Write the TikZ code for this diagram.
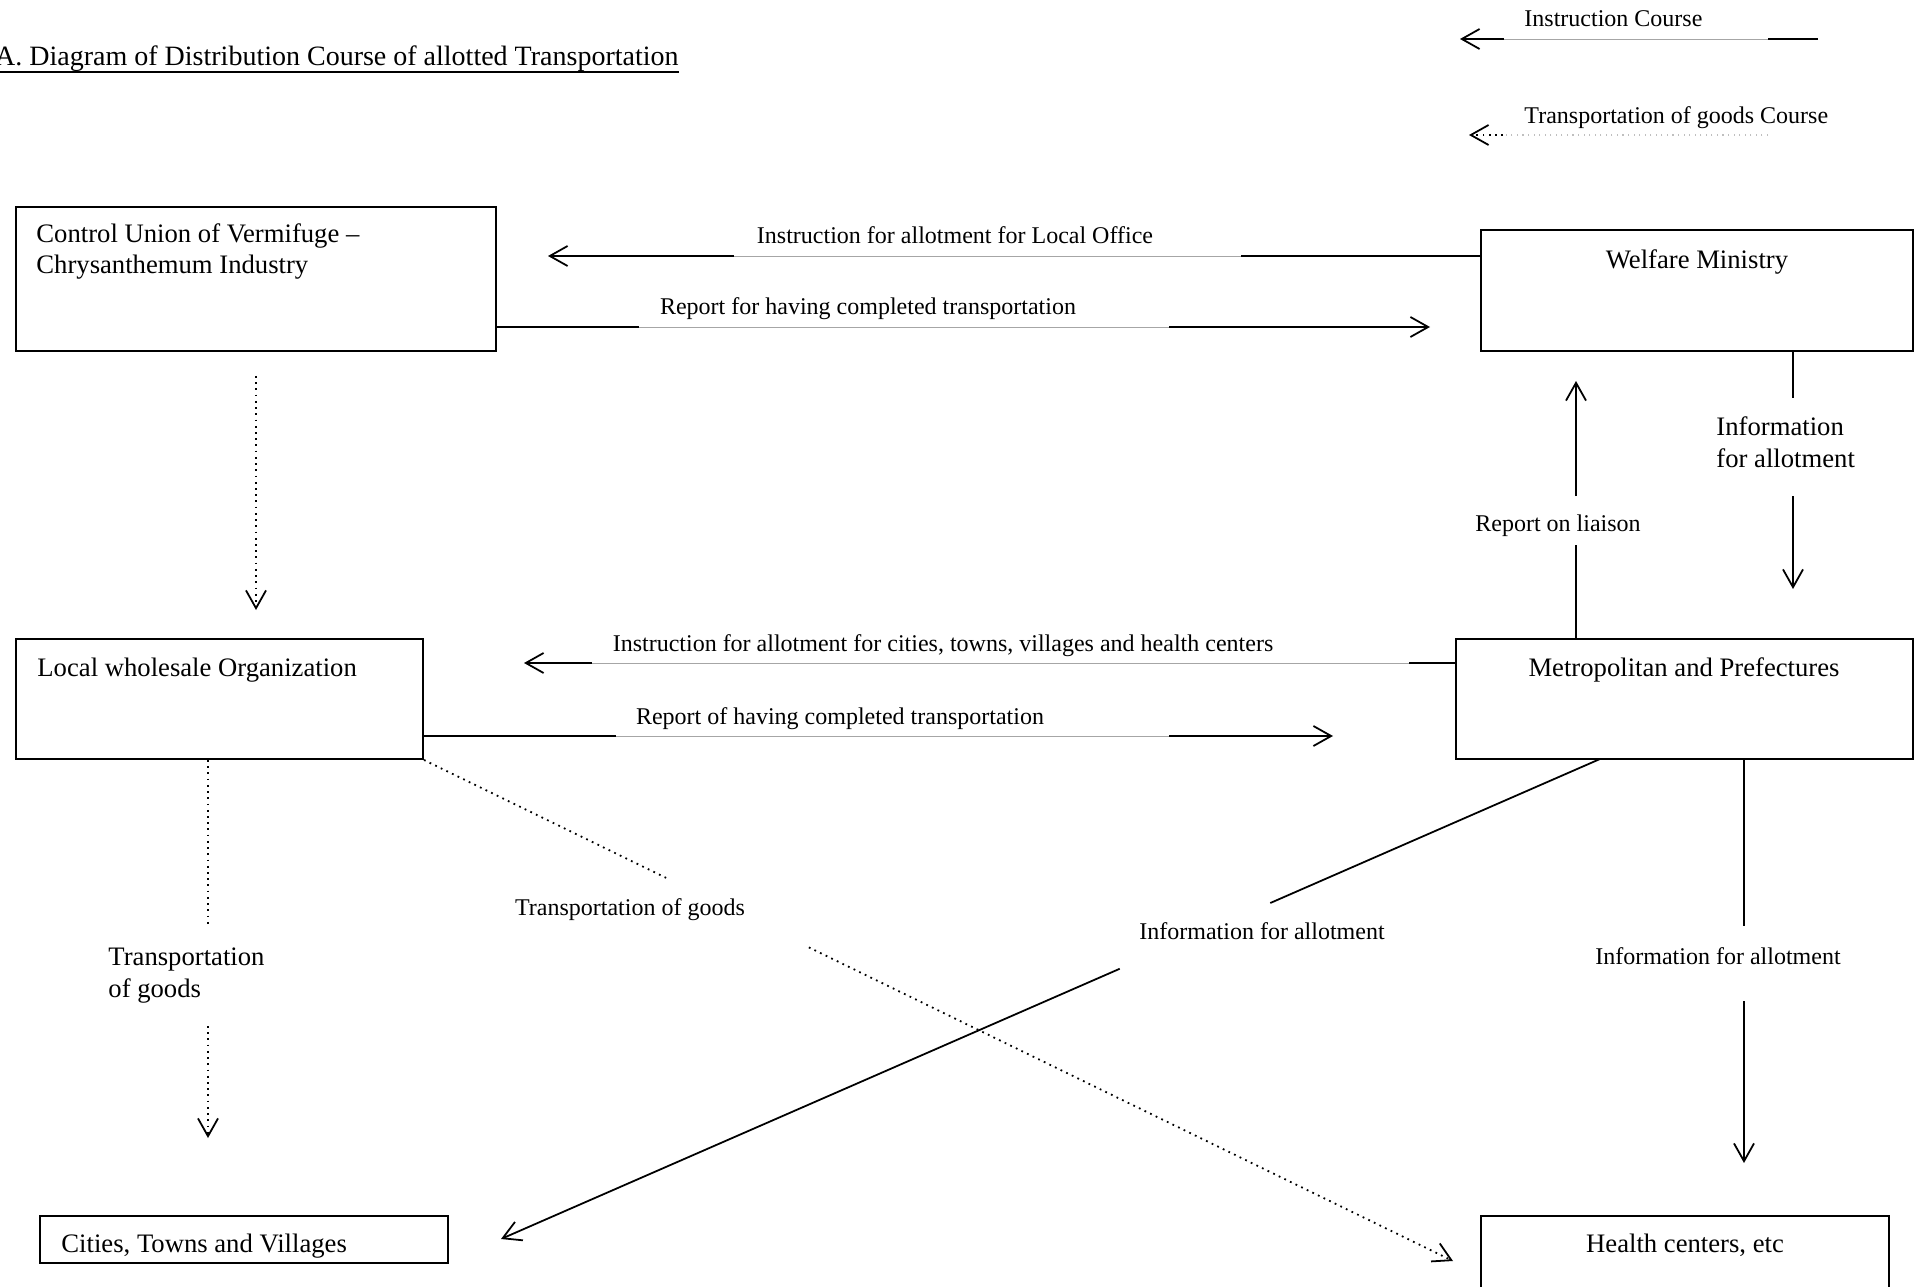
\documentclass[tikz,border=0pt]{standalone}
\usepackage{fontspec}
\setmainfont{Liberation Serif}
\usetikzlibrary{arrows.meta,fit,calc}
\tikzset{
  box/.style={draw, line width=0.9pt, inner sep=0pt},
  boxtext/.style={font=\fontsize{12}{14.2}\selectfont, inner sep=0pt, align=left},
  lbl/.style={font=\fontsize{10.8}{13}\selectfont, inner sep=0pt},
  instr/.style={line width=0.8pt},
  goods/.style={line width=0.8pt, dotted},
  tip/.style={-{Straight Barb[length=8pt,width=9pt,line width=0.8pt]}},
  blank/.style={draw=black!35, line width=0.4pt, preaction={draw=white, line width=2.5pt}},
}
\begin{document}
\begin{tikzpicture}[x=0.45pt, y=-0.45pt]
\useasboundingbox (0,0) rectangle (1919,1287);
% Titel
\node[font=\fontsize{12.6}{15}\selectfont, anchor=base east, inner sep=0pt] (title) at (679,66) {A. Diagram of Distribution Course of allotted Transportation};
\draw[line width=0.9pt] (title.base east) ++(0,6) -- (0,72);

% Legende
\node[lbl, anchor=base west] (leg1) at (1524,27) {Instruction Course};
\node[lbl, anchor=base west] (leg2) at (1524,124) {Transportation of goods Course};
\coordinate (leg1a) at (1818,39);
\coordinate (leg1b) at (1768,39);
\coordinate (leg1c) at (1504,39);
\coordinate (leg1t) at (1460,39);
\draw[instr] (leg1a) -- (leg1b);
\draw[blank] (leg1b) -- (leg1c);
\draw[instr, tip] (leg1c) -- (leg1t);
\coordinate (leg2b) at (1768,135);
\coordinate (leg2c) at (1503,135);
\coordinate (leg2t) at (1469,135);
\draw[draw=black!25, line width=0.5pt, dotted] (leg2b) -- (leg2c);
\draw[goods, tip] (leg2c) -- (leg2t);

% Kaesten
\node[box, fit={(16,207)(496,351)}] (cu) {};
\node[box, fit={(1481,230)(1913,351)}] (wm) {};
\node[box, fit={(16,639)(423,759)}] (lw) {};
\node[box, fit={(1456,639)(1913,759)}] (mp) {};
\node[box, fit={(40,1216)(448,1263)}] (ctv) {};
\node[box, fit={(1481,1216)(1889,1300)}] (hc) {};
\node[boxtext, anchor=base west] (cut) at (36,274) {Control Union of Vermifuge --\\Chrysanthemum Industry};
\node[boxtext, anchor=base] (wmt) at (1697,269) {Welfare Ministry};
\node[boxtext, anchor=base west] (lwt) at (37,676) {Local wholesale Organization};
\node[boxtext, anchor=base] (mpt) at (1684,676) {Metropolitan and Prefectures};
\node[boxtext, anchor=base west] (ctvt) at (61,1252) {Cities, Towns and Villages};
\node[boxtext, anchor=base] (hct) at (1685,1252) {Health centers, etc};

% Welfare Ministry -> Control Union
\coordinate (t1) at (548,256);
\draw[instr, tip] (t1 -| wm.west) -- (t1);
\draw[blank] (734,256) -- (1241,256);
\node[lbl, anchor=base] (l1) at (955,244) {Instruction for allotment for Local Office};
% Control Union -> Welfare Ministry
\coordinate (t2) at (1430,327);
\draw[instr, tip] (t2 -| cu.east) -- (t2);
\draw[blank] (639,327) -- (1169,327);
\node[lbl, anchor=base] (l2) at (868,315) {Report for having completed transportation};
% Control Union -> Local wholesale
\coordinate (t0) at (256,610);
\draw[goods, tip] ([yshift=-10.8pt]cu.south) -- (t0);
% Welfare Ministry -> Metropolitan
\coordinate (g6a) at (1793,398);
\coordinate (g6b) at (1793,496);
\coordinate (t6) at (1793,589);
\draw[instr] (g6a |- wm.south) -- (g6a);
\draw[instr, tip] (g6b) -- (t6);
\node[boxtext, anchor=base west] (l6) at (1716,467) {Information\\for allotment};
% Metropolitan -> Welfare Ministry
\coordinate (g5a) at (1576,545);
\coordinate (g5b) at (1576,496);
\coordinate (t5) at (1576,381);
\draw[instr] (g5a |- mp.north) -- (g5a);
\draw[instr, tip] (g5b) -- (t5);
\node[lbl, anchor=base] (l5) at (1558,531) {Report on liaison};
% Metropolitan -> Local wholesale
\coordinate (t3) at (524,663);
\draw[instr, tip] (t3 -| mp.west) -- (t3);
\draw[blank] (592,663) -- (1409,663);
\node[lbl, anchor=base] (l3) at (943,651) {Instruction for allotment for cities, towns, villages and health centers};
% Local wholesale -> Metropolitan
\coordinate (t4) at (1333,736);
\draw[instr, tip] (t4 -| lw.east) -- (t4);
\draw[blank] (616,736) -- (1169,736);
\node[lbl, anchor=base] (l4) at (840,724) {Report of having completed transportation};
% Local wholesale -> Cities
\coordinate (g7a) at (208,924);
\coordinate (g7b) at (208,1026);
\coordinate (t7) at (208,1138);
\draw[goods] (g7a |- lw.south) -- (g7a);
\draw[goods, tip] (g7b) -- (t7);
\node[boxtext, anchor=base west] (l7) at (108,997) {Transportation\\of goods};
% Local wholesale -> Health centers
\coordinate (t8) at (1453,1261);
\draw[goods] (lw.south east) -- ($(lw.south east)!0.239!(t8)$);
\draw[goods, tip] ($(lw.south east)!0.374!(t8)$) -- (t8);
\node[lbl, anchor=base] (l8) at (630,915) {Transportation of goods};
% Metropolitan -> Cities
\coordinate (s9) at (1600,759);
\coordinate (t9) at (501,1239);
\draw[instr] (s9) -- ($(s9)!0.300!(t9)$);
\draw[instr, tip] ($(s9)!0.437!(t9)$) -- (t9);
\node[lbl, anchor=base] (l9) at (1262,939) {Information for allotment};
% Metropolitan -> Health centers
\coordinate (g10a) at (1744,926);
\coordinate (g10b) at (1744,1001);
\coordinate (t10) at (1744,1163);
\draw[instr] (g10a |- mp.south) -- (g10a);
\draw[instr, tip] (g10b) -- (t10);
\node[lbl, anchor=base] (l10) at (1718,964) {Information for allotment};
\end{tikzpicture}
\end{document}
